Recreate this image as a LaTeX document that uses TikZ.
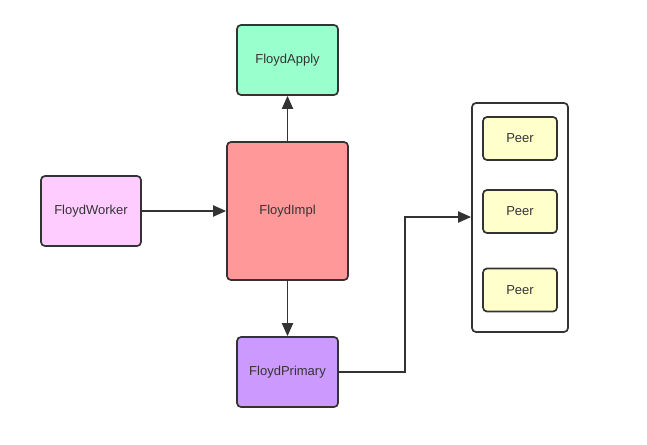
\documentclass[tikz,border=0pt]{standalone}
\usepackage{fontspec}
\setmainfont{Liberation Sans}
\usetikzlibrary{arrows.meta,positioning}

\definecolor{applyc}{HTML}{99FFCC}
\definecolor{implc}{HTML}{FF9999}
\definecolor{workerc}{HTML}{FFCCFF}
\definecolor{primaryc}{HTML}{CC99FF}
\definecolor{peerc}{HTML}{FFFFCC}
\definecolor{linec}{HTML}{333333}

\tikzset{
    box/.style={draw=linec, line width=1.7pt, rounded corners=4pt, inner sep=0pt,
        text=linec, font=\fontsize{13}{15}\selectfont},
    link/.style={draw=linec, line width=1.9pt, -{Triangle[length=13pt,width=11pt]}}
}

\begin{document}
\begin{tikzpicture}[x=1pt,y=-1pt]
    \useasboundingbox (0,0) rectangle (647,444); %画布大小
    %中间的主干
    \node[box, fill=implc, minimum width=121pt, minimum height=138pt] (impl) at (287.5,211) {FloydImpl};
    \node[box, fill=applyc, minimum width=101pt, minimum height=70pt] (apply) at (287.5,60) {FloydApply};
    \node[box, fill=workerc, minimum width=100pt, minimum height=70pt] (worker) at (91,211) {FloydWorker};
    \node[box, fill=primaryc, minimum width=101pt, minimum height=70pt] (primary) at (287.5,372) {FloydPrimary};
    %右边的Peer组
    \node[box, fill=white, minimum width=96pt, minimum height=229pt] (group) at (520,217.5) {};
    \node[box, fill=peerc, minimum width=74pt, minimum height=43pt] (peera) at (520,138.5) {Peer};
    \node[box, fill=peerc, minimum width=74pt, minimum height=43pt] (peerb) at (520,211.5) {Peer};
    \node[box, fill=peerc, minimum width=74pt, minimum height=43pt] (peerc) at (520,290) {Peer};
    \coordinate (bend) at (405,217);
    %连线
    \draw[link] (impl) -- (apply);
    \draw[link] (worker) -- (impl);
    \draw[link] (impl) -- (primary);
    \draw[link] (primary.east) -| (bend) -- (bend -| group.west);
\end{tikzpicture}
\end{document}
